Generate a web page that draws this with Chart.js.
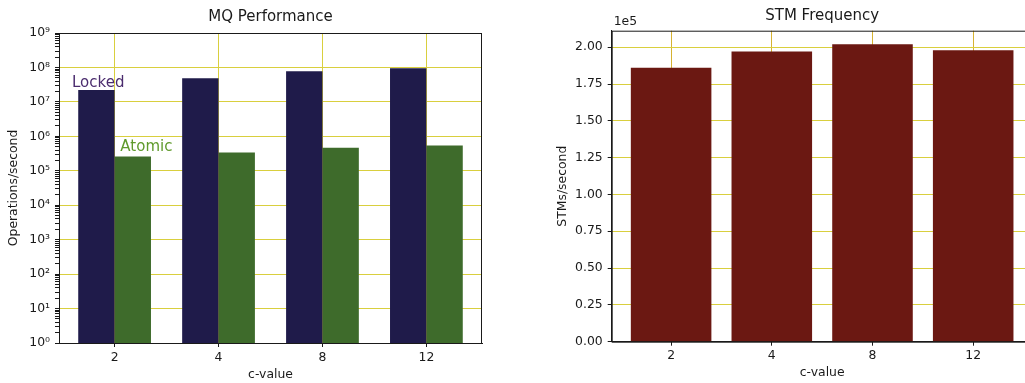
<!DOCTYPE html>
<html>
<head>
<meta charset="utf-8">
<script src="https://cdn.jsdelivr.net/npm/chart.js@4.4.1/dist/chart.umd.min.js"></script>
<style>
  body { margin: 0; background: #fff; overflow: hidden; width: 1025px; height: 383px; }
  #mqChart { position: absolute; left: 0; top: 0; }
  #stmChart { position: absolute; left: 540px; top: 0; }
</style>
</head>
<body>
<canvas id="mqChart" width="500" height="383"></canvas>
<canvas id="stmChart" width="505" height="383"></canvas>
<script>
// values
const categories = ['2', '4', '8', '12'];
const lockedOps = [2.2e7, 4.85e7, 7.8e7, 9.5e7];
const atomicOps = [2.6e5, 3.4e5, 4.7e5, 5.4e5];
const stmRate = [1.86e5, 1.97e5, 2.02e5, 1.98e5];

const mqTickLabels = ['10⁰', '10¹', '10²', '10³', '10⁴', '10⁵', '10⁶', '10⁷', '10⁸', '10⁹'];
const stmTickValues = [0, 25000, 50000, 75000, 100000, 125000, 150000, 175000, 200000];
const stmTickLabels = ['0.00', '0.25', '0.50', '0.75', '1.00', '1.25', '1.50', '1.75', '2.00'];

Chart.defaults.font.family = 'DejaVu Sans';
Chart.defaults.font.size = 12;
Chart.defaults.color = '#1a1a1a';

const axisColor = '#1a1a1a';
const gridYellow = '#d9cf3e';
const gridOrange = '#d6b232';

function isDecade(v) {
    let e = Math.log10(v);
    return Math.abs(e - Math.round(e)) < 1e-9;
}

// box round the plot, like matplotlib spines
const framePlugin = {
    id: 'frame',
    afterDraw(chart) {
        let a = chart.chartArea, ctx = chart.ctx;
        ctx.save();
        ctx.strokeStyle = axisColor;
        ctx.lineWidth = 1;
        ctx.strokeRect(a.left + 0.5, a.top + 0.5, a.right - a.left - 1, a.bottom - a.top);
        ctx.restore();
    }
};

function toPoints(vals) {
    return vals.map((v, i) => ({ x: i, y: v }));
}

function xAxis(min, max, height, titlePad, gridCol) {
    return {
        type: 'linear',
        min: min,
        max: max,
        offset: false,
        afterBuildTicks: s => { s.ticks = categories.map((c, i) => ({ value: i })); },
        afterFit: s => { s.height = height; },
        ticks: {
            callback: (v) => categories[v],
            padding: 3,
            font: { size: 12.4 },
            color: '#1a1a1a'
        },
        grid: {
            offset: false,
            color: gridCol,
            tickColor: axisColor,
            tickLength: 4,
            lineWidth: 1
        },
        border: { display: true, color: axisColor, width: 1 },
        title: { display: true, text: 'c-value', font: { size: 12.4 }, padding: { top: 0, bottom: titlePad } }
    };
}

// MQ Performance (log scale)
const mqLabels = {
    id: 'mqLabels',
    afterDatasetsDraw(chart) {
        let ctx = chart.ctx, x = chart.scales.x, y = chart.scales.y;
        ctx.save();
        ctx.font = '15px "DejaVu Sans"';
        ctx.textBaseline = 'alphabetic';
        ctx.textAlign = 'left';
        ctx.fillStyle = '#4b2c6e';
        ctx.fillText('Locked', x.getPixelForValue(-0.41), y.getPixelForValue(lockedOps[0] * 1.25));
        ctx.fillStyle = '#5f9a2c';
        ctx.fillText('Atomic', x.getPixelForValue(0.055), y.getPixelForValue(atomicOps[0] * 1.4));
        ctx.restore();
    }
};

new Chart(document.getElementById('mqChart'), {
    type: 'bar',
    data: {
        datasets: [
            {
                label: 'Locked',
                data: toPoints(lockedOps),
                backgroundColor: '#1f1b4a',
                categoryPercentage: 0.7,
                barPercentage: 1.0
            },
            {
                label: 'Atomic',
                data: toPoints(atomicOps),
                backgroundColor: '#3e6b2b',
                categoryPercentage: 0.7,
                barPercentage: 1.0
            }
        ]
    },
    options: {
        responsive: false,
        animation: false,
        layout: { padding: { left: 0, right: 18, top: 0, bottom: 0 } },
        plugins: {
            legend: { display: false },
            tooltip: { enabled: false },
            title: {
                display: true,
                text: 'MQ Performance',
                fullSize: false,
                font: { size: 15, weight: 'normal' },
                color: '#1a1a1a',
                padding: { top: 8, bottom: 7 }
            }
        },
        scales: {
            x: xAxis(-0.535, 3.535, 40, 0.8, gridYellow),
            y: {
                type: 'logarithmic',
                min: 1,
                max: 1e9,
                afterFit: s => { s.width = 59; },
                afterBuildTicks: s => {
                    let t = [];
                    for (let e = 0; e <= 9; e++) {
                        t.push({ value: Math.pow(10, e), major: true });
                        if (e < 9) {
                            for (let m = 2; m <= 9; m++) t.push({ value: m * Math.pow(10, e) });
                        }
                    }
                    s.ticks = t;
                },
                ticks: {
                    autoSkip: false,
                    padding: 5,
                    font: { size: 12.4 },
                    color: '#1a1a1a',
                    callback: (v) => isDecade(v) ? mqTickLabels[Math.round(Math.log10(v))] : ''
                },
                grid: {
                    color: ctx => (ctx.tick && isDecade(ctx.tick.value)) ? gridYellow : 'rgba(0,0,0,0)',
                    tickColor: axisColor,
                    tickLength: 4,
                    lineWidth: 1
                },
                border: { display: true, color: axisColor, width: 1 },
                title: { display: true, text: 'Operations/second', font: { size: 12.4 }, padding: { top: 6.8, bottom: 0 } }
            }
        }
    },
    plugins: [framePlugin, mqLabels]
});

// STM Frequency
const expLabel = {
    id: 'expLabel',
    afterDraw(chart) {
        let ctx = chart.ctx, a = chart.chartArea;
        ctx.save();
        ctx.font = '12.4px "DejaVu Sans"';
        ctx.fillStyle = '#1a1a1a';
        ctx.textAlign = 'left';
        ctx.textBaseline = 'bottom';
        ctx.fillText('1e5', a.left + 2, a.top - 3);
        ctx.restore();
    }
};

new Chart(document.getElementById('stmChart'), {
    type: 'bar',
    data: {
        datasets: [{
            label: 'STMs/second',
            data: toPoints(stmRate),
            backgroundColor: '#6b1812',
            categoryPercentage: 0.8,
            barPercentage: 1.0
        }]
    },
    options: {
        responsive: false,
        animation: false,
        layout: { padding: { left: 0, right: 12.4, top: 0, bottom: 0 } },
        plugins: {
            legend: { display: false },
            tooltip: { enabled: false },
            title: {
                display: true,
                text: 'STM Frequency',
                fullSize: false,
                font: { size: 15, weight: 'normal' },
                color: '#1a1a1a',
                padding: { top: 6.7, bottom: 6 }
            }
        },
        scales: {
            x: xAxis(-0.59, 3.59, 41.3, 2.5, gridOrange),
            y: {
                type: 'linear',
                min: 0,
                max: 211200,
                afterFit: s => { s.width = 71.7; },
                afterBuildTicks: s => { s.ticks = stmTickValues.map(v => ({ value: v })); },
                ticks: {
                    autoSkip: false,
                    padding: 5,
                    font: { size: 12.4 },
                    color: '#1a1a1a',
                    callback: (v, i) => stmTickLabels[i]
                },
                grid: {
                    color: gridYellow,
                    tickColor: axisColor,
                    tickLength: 4,
                    lineWidth: 1
                },
                border: { display: true, color: axisColor, width: 1 },
                title: { display: true, text: 'STMs/second', font: { size: 12.4 }, padding: { top: 15.8, bottom: 0 } }
            }
        }
    },
    plugins: [framePlugin, expLabel]
});
</script>
</body>
</html>
